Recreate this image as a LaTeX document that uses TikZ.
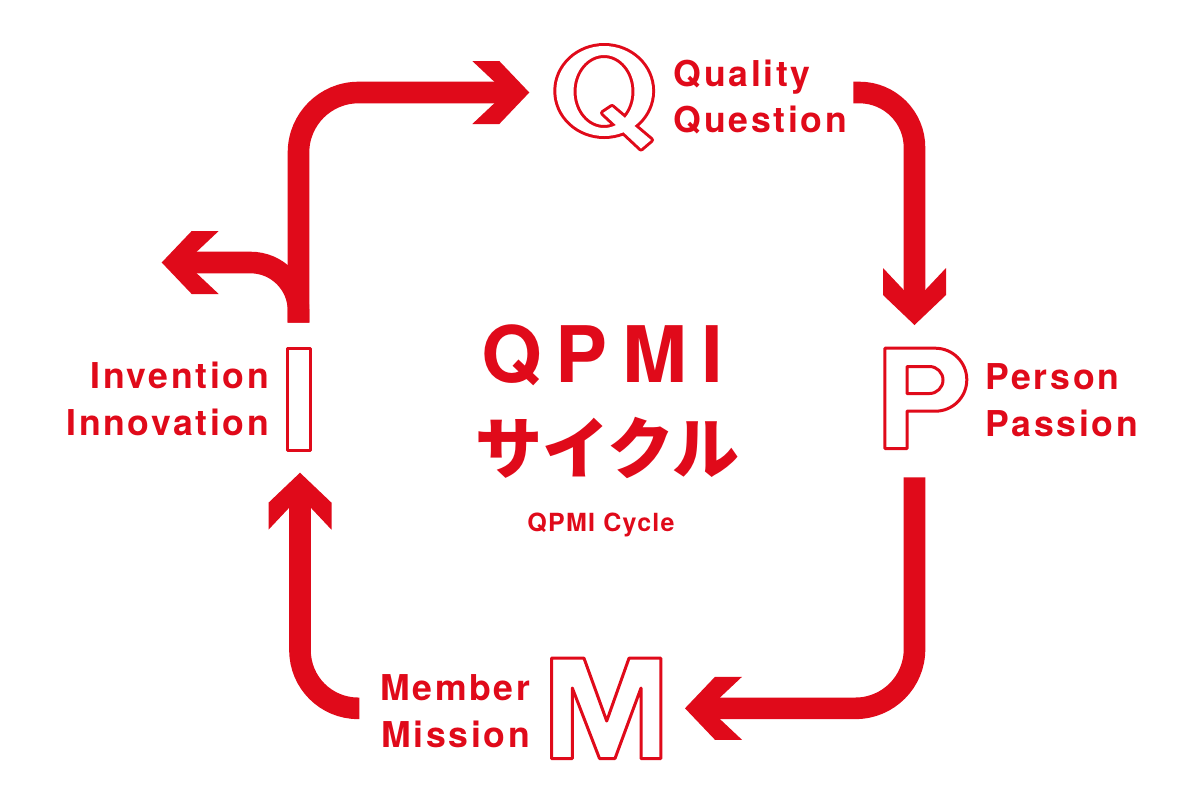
\documentclass[tikz,border=0pt]{standalone}
\usepackage{fontspec}
\usepackage{xcolor}
\setmainfont{TeX Gyre Heros}
\newfontfamily\tagfont{TeX Gyre Heros}[LetterSpace=7.5]
\newfontfamily\titlefont{TeX Gyre Heros}[LetterSpace=18]
\newfontfamily\subfont{TeX Gyre Heros}[LetterSpace=5]
\newfontfamily\jpfont{Noto Sans CJK JP}
\definecolor{qpmired}{RGB}{224,10,26}

\tikzset{
  flow/.style={draw=qpmired, line width=10.8pt},
  glyph/.style={draw=qpmired, line width=1.5pt, line join=round},
  tag/.style={text=qpmired, inner sep=0pt, font=\tagfont\bfseries\fontsize{17.8}{21}\selectfont},
  chevron/.pic={\fill[qpmired] (0,0) -- (-30,31.5) -- (-57,31.5) -- (-35,10.8) -- (-35,-10.8) -- (-57,-31.5) -- (-30,-31.5) -- cycle;}
}

\begin{document}
\begin{tikzpicture}[x=0.5pt, y=-0.5pt]
    \fill[white] (0,0) rectangle (1200,800);
    \useasboundingbox (0,0) rectangle (1200,800);

    \coordinate (iOut) at (298.5,322.7);
    \coordinate (qIn) at (529.3,92.5);
    \coordinate (qOut) at (853.3,92.5);
    \coordinate (pIn) at (914.5,325);
    \coordinate (pOut) at (914.5,477.3);
    \coordinate (mIn) at (685,708.3);
    \coordinate (mOut) at (359.3,708.3);
    \coordinate (iIn) at (300,472.7);
    \coordinate (exitTip) at (161.7,262.5);

    \draw[flow, rounded corners=30pt] (iOut) |- ([xshift=-17pt]qIn);
    \draw[flow, rounded corners=27.5pt] (qOut) -| ([yshift=17pt]pIn);
    \draw[flow, rounded corners=29.5pt] (pOut) |- ([xshift=17pt]mIn);
    \draw[flow, rounded corners=29pt] (mOut) -| ([yshift=-17pt]iIn);
    \draw[flow, rounded corners=24pt] (iOut) |- ([xshift=17pt]exitTip);
    \pic at (qIn) {chevron};
    \pic[rotate=-90] at (pIn) {chevron};
    \pic[rotate=180] at (mIn) {chevron};
    \pic[rotate=90] at (iIn) {chevron};
    \pic[rotate=180] at (exitTip) {chevron};

    % Q
    \draw[qpmired, line width=3pt, line join=round] (604.2,91) ellipse (47.9 and 45) (604,91.5) ellipse (30.5 and 36.5)
        (612,107) -- (651,140) -- (641,148.5) -- (603,113) -- cycle;
    \fill[white, even odd rule] (604.2,91) ellipse (47.9 and 45) (604,91.5) ellipse (30.5 and 36.5);
    \fill[white] (612,107) -- (651,140) -- (641,148.5) -- (603,113) -- cycle;
    % P
    \draw[glyph] (884.8,348.2) -- (935.3,348.2) arc[start angle=-90, end angle=90, radius=31.5]
        -- (907,411.2) -- (907,448.5) -- (884.8,448.5) -- cycle
        (907,366.5) -- (929.5,366.5) arc[start angle=-90, end angle=90, radius=13.5] -- (907,393.5) -- cycle;
    % M
    \draw[glyph] (551.5,658.2) -- (584,658.2) -- (606.7,721) -- (629,658.2) -- (660.8,658.2) -- (660.8,758.5)
        -- (641,758.5) -- (641,688) -- (615,758.5) -- (599.5,758.5) -- (572.3,688) -- (572.3,758.5) -- (551.5,758.5) -- cycle;
    % I
    \draw[glyph] (287.5,348.8) rectangle (310.8,450.2);

    \node[tag, anchor=base west] (quality) at (673.5,86.7) {Quality};
    \node[tag, anchor=base west] (question) at (673.5,132.7) {Question};
    \node[tag, anchor=base west] (person) at (985,389.3) {Person};
    \node[tag, anchor=base west] (passion) at (985,436.5) {Passion};
    \node[tag, anchor=base east] (member) at (530.5,700) {Member};
    \node[tag, anchor=base east] (mission) at (530.5,747.3) {Mission};
    \node[tag, anchor=base east] (invention) at (269.5,388.3) {Invention};
    \node[tag, anchor=base east] (innovation) at (269.5,435) {Innovation};

    \node[text=qpmired, inner sep=0pt, anchor=base, font=\titlefont\bfseries\fontsize{39}{40}\selectfont] (title) at (602,382.7) {QPMI};
    \node[text=qpmired, inner sep=0pt, font=\jpfont\bfseries\fontsize{33.5}{35}\selectfont] (cycleJp) at (607.5,448) {サイクル};
    \node[text=qpmired, inner sep=0pt, anchor=base, font=\subfont\bfseries\fontsize{12.5}{14}\selectfont] (cycleEn) at (601,531.7) {QPMI Cycle};
\end{tikzpicture}
\end{document}
